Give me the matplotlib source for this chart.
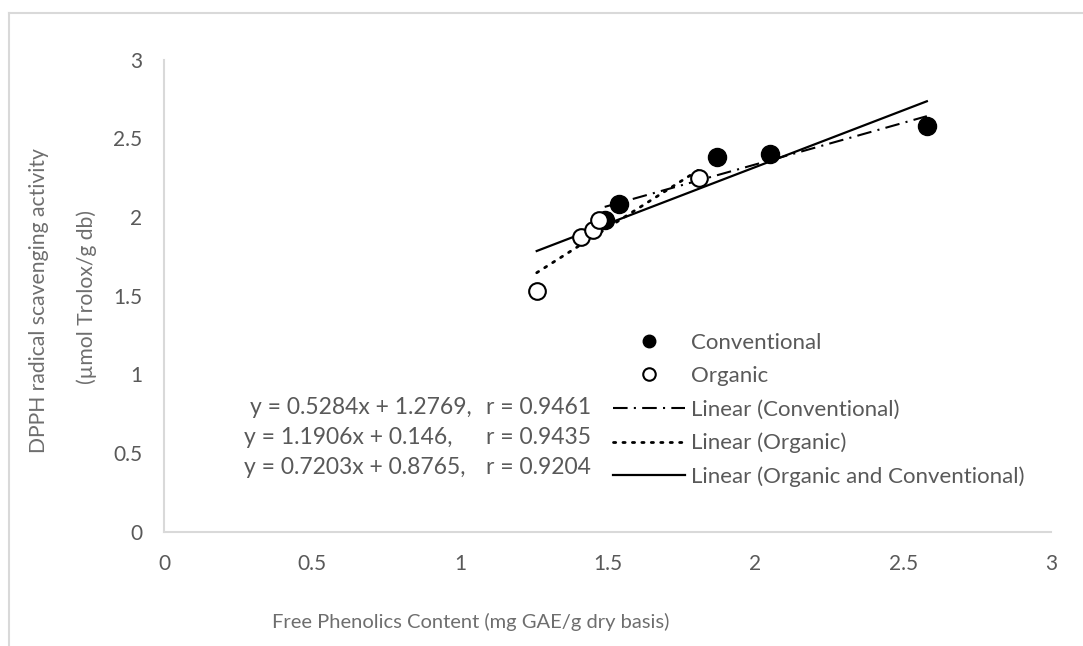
import numpy as np
import matplotlib.pyplot as plt
from matplotlib.lines import Line2D

plt.rcParams['font.family'] = ['Lato', 'DejaVu Sans']

# data
conv_x = [1.49, 1.54, 1.87, 2.05, 2.58]
conv_y = [1.98, 2.08, 2.38, 2.40, 2.58]
org_x = [1.26, 1.41, 1.45, 1.47, 1.81]
org_y = [1.53, 1.87, 1.92, 1.98, 2.25]

# trendline coefficients as printed (slope, intercept)
fit_conv = (0.5284, 1.2769)
fit_org = (1.1906, 0.146)
fit_all = (0.7203, 0.8765)

eq_texts = ["y = 0.5284x + 1.2769,", "y = 1.1906x + 0.146,", "y = 0.7203x + 0.8765,"]
r_texts = ["r = 0.9461", "r = 0.9435", "r = 0.9204"]

W, H = 1083, 646
fig = plt.figure(figsize=(W / 100, H / 100), dpi=100)
ax = fig.add_axes([164.3 / W, 1 - 532 / H, (1051 - 164.3) / W, (532 - 59.5) / H])

grey = '#595959'
ax.scatter(conv_x, conv_y, s=13**2, color='black', zorder=3)
ax.scatter(org_x, org_y, s=12**2, facecolor='white', edgecolor='black', linewidth=1.5, zorder=3)

def trend(xs, fit):
    x = np.array([min(xs), max(xs)])
    return x, fit[0] * x + fit[1]

ls_conv = (0, (7, 3, 1, 3))
ls_org = (0, (0.8, 2.6))
x, y = trend(conv_x, fit_conv)
ax.plot(x, y, color='black', lw=1.5, linestyle=ls_conv, zorder=2)
x, y = trend(org_x, fit_org)
ax.plot(x, y, color='black', lw=2, linestyle=ls_org, dash_capstyle='round', zorder=2)
x, y = trend(conv_x + org_x, fit_all)
ax.plot(x, y, color='black', lw=1.6, zorder=2)

ax.set_xlim(0, 3)
ax.set_ylim(0, 3)
ax.set_xticks(np.arange(0, 3.01, 0.5))
ax.set_yticks(np.arange(0, 3.01, 0.5))
ax.set_xticklabels(['0', '0.5', '1', '1.5', '2', '2.5', '3'])
ax.set_yticklabels(['0', '0.5', '1', '1.5', '2', '2.5', '3'])
ax.tick_params(length=0, labelsize=15, labelcolor=grey)
ax.tick_params(axis='y', pad=16)
ax.tick_params(axis='x', pad=16)
for s in ['top', 'right']:
    ax.spines[s].set_visible(False)
for s in ['left', 'bottom']:
    ax.spines[s].set_color('#d9d9d9')
    ax.spines[s].set_linewidth(1.5)

title_grey = '#6e6e6e'
fig.text(39 / W, 1 - 301 / H, 'DPPH radical scavenging activity', rotation=90,
         ha='center', va='center', fontsize=15.2, color=title_grey)
fig.text(87 / W, 1 - 297 / H, '(µmol Trolox/g db)', rotation=90,
         ha='center', va='center', fontsize=15.2, color=title_grey)
fig.text(471 / W, 1 - 622 / H, 'Free Phenolics Content (mg GAE/g dry basis)',
         ha='center', va='center', fontsize=14.5, color=title_grey)

handles = [
    Line2D([], [], marker='o', ls='none', color='black', markersize=9),
    Line2D([], [], marker='o', ls='none', markerfacecolor='white', markeredgecolor='black',
           markeredgewidth=1.5, markersize=9),
    Line2D([], [], color='black', lw=1.5, linestyle=ls_conv),
    Line2D([], [], color='black', lw=2, linestyle=ls_org, dash_capstyle='round'),
    Line2D([], [], color='black', lw=1.6),
]
labels = ['Conventional', 'Organic', 'Linear (Conventional)', 'Linear (Organic)',
          'Linear (Organic and Conventional)']
fs = 16
leg = ax.legend(handles, labels, loc='center left', bbox_to_anchor=(613 / W, 1 - 410 / H),
                bbox_transform=fig.transFigure, frameon=False, fontsize=fs,
                handlelength=52 / fs, handletextpad=4 / fs, borderpad=0, borderaxespad=0,
                labelspacing=0.6)
for t in leg.get_texts():
    t.set_color(grey)

eq_fs = 16.5
eq_y = [407, 438, 468]
eq_x = [250, 244, 244]
for ex, ey, et, rt in zip(eq_x, eq_y, eq_texts, r_texts):
    fig.text(ex / W, 1 - ey / H, et, ha='left', va='center', fontsize=eq_fs, color=grey)
    fig.text(486 / W, 1 - ey / H, rt, ha='left', va='center', fontsize=eq_fs, color=grey)

# chart area border (partially visible in the crop)
fig.add_artist(Line2D([9 / W, 1], [1 - 12.7 / H] * 2, color='#d9d9d9', lw=1.5))
fig.add_artist(Line2D([9 / W] * 2, [0, 1 - 12.7 / H], color='#d9d9d9', lw=1.5))

fig.savefig('out.png', dpi=100)
